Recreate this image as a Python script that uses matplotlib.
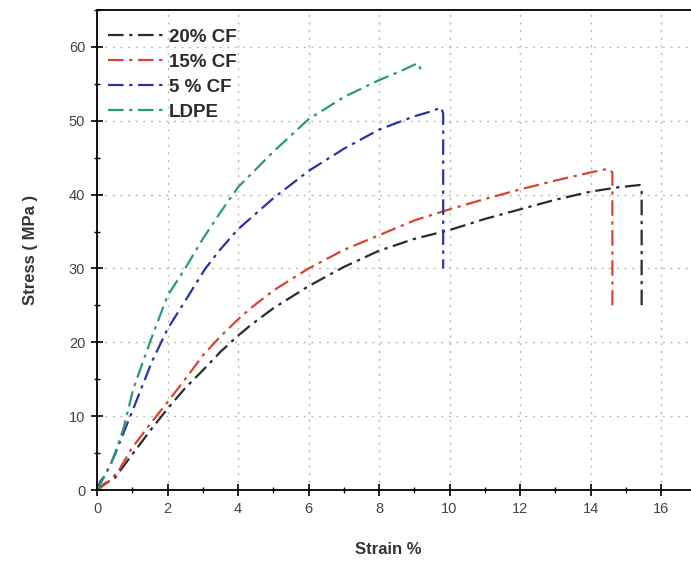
import matplotlib
matplotlib.use("Agg")
import matplotlib.pyplot as plt
from matplotlib.ticker import MultipleLocator

plt.rcParams['font.family'] = ['Liberation Sans', 'DejaVu Sans']

# ---- data ----
labels = ["20% CF", "15% CF", "5 % CF", "LDPE"]
colors = ["#2b2b2b", "#d9442e", "#2a33a6", "#2a9a7c"]

strain_20 = [0.0, 0.23, 0.5, 0.98, 1.55, 2.0, 2.5, 3.0, 3.5, 4.0, 4.38, 5.0, 6.0, 7.0, 8.0, 9.0, 10.0, 11.0, 12.0, 13.0, 14.0, 14.8, 15.4, 15.45, 15.45]
stress_20 = [0.0, 0.9, 1.6, 4.7, 8.3, 11.0, 13.8, 16.2, 18.7, 20.9, 22.4, 24.6, 27.6, 30.2, 32.4, 34.0, 35.2, 36.7, 38.0, 39.3, 40.4, 41.0, 41.3, 40.5, 24.5]

strain_15 = [0.0, 0.15, 0.32, 0.6, 0.98, 1.55, 2.0, 2.5, 3.0, 3.5, 4.0, 4.38, 5.0, 6.0, 7.0, 8.0, 9.0, 10.0, 11.0, 12.0, 13.0, 14.0, 14.5, 14.62, 14.62]
stress_15 = [0.0, 0.5, 1.1, 2.5, 5.6, 9.2, 11.9, 15.0, 18.2, 20.8, 23.1, 24.7, 27.0, 30.0, 32.5, 34.5, 36.5, 38.0, 39.4, 40.7, 41.9, 43.0, 43.5, 43.0, 25.0]

strain_5 = [0.0, 0.1, 0.23, 0.5, 0.8, 1.03, 1.55, 2.0, 2.5, 3.06, 3.5, 4.0, 4.38, 5.0, 6.0, 7.0, 8.0, 9.0, 9.5, 9.76, 9.82, 9.82]
stress_5 = [0.0, 1.2, 2.0, 4.7, 8.3, 11.0, 17.3, 21.8, 25.6, 29.9, 32.6, 35.3, 36.9, 39.5, 43.2, 46.2, 48.8, 50.6, 51.3, 51.8, 51.0, 30.0]

strain_ldpe = [0.0, 0.13, 0.42, 0.75, 1.03, 1.5, 2.0, 2.5, 3.0, 3.5, 4.0, 5.0, 6.0, 7.0, 8.0, 8.6, 9.1, 9.2]
stress_ldpe = [0.0, 1.1, 3.8, 8.3, 13.7, 20.0, 26.3, 30.0, 34.0, 37.6, 41.0, 45.8, 50.2, 53.2, 55.5, 56.7, 57.8, 56.8]

series = [(strain_20, stress_20), (strain_15, stress_15), (strain_5, stress_5), (strain_ldpe, stress_ldpe)]

x_ticks = [0, 2, 4, 6, 8, 10, 12, 14, 16]
y_ticks = [0, 10, 20, 30, 40, 50, 60]

fig = plt.figure(figsize=(6.91, 5.67), dpi=100)
ax = fig.add_axes([0.1404, 0.1358, 0.8596, 0.8466])

dash = (0, (7, 2.5, 1.5, 2.5))
for (xs, ys), lab, c in zip(series, labels, colors):
    ax.plot(xs, ys, color=c, lw=1.6, linestyle=dash, label=lab)

ax.set_xlim(0, 16.85)
ax.set_ylim(0, 65)
ax.set_xticks(x_ticks)
ax.set_yticks(y_ticks)
ax.xaxis.set_minor_locator(MultipleLocator(1))
ax.yaxis.set_minor_locator(MultipleLocator(5))
ax.tick_params(which='major', direction='inout', length=9, width=1.2, labelsize=10.5, labelcolor='#444444', pad=4)
ax.tick_params(which='minor', direction='inout', length=5, width=1.0)
ax.tick_params(top=False, right=False, which='both')

for s in ['left', 'bottom', 'top']:
    ax.spines[s].set_linewidth(1.3)
ax.spines['right'].set_visible(False)

ax.grid(True, which='major', color='#b5bca8', linestyle=(0, (1.5, 4)), linewidth=1.0)
ax.set_axisbelow(True)

ax.set_xlabel("Strain %", fontsize=12, fontweight='bold', color='#333333')
ax.set_ylabel("Stress ( MPa )", fontsize=12, fontweight='bold', color='#333333')
ax.xaxis.set_label_coords(0.49, -0.108)
ax.yaxis.set_label_coords(-0.1, 0.5)

leg = ax.legend(loc='upper left', frameon=False, prop={'weight': 'bold', 'size': 13.5},
                handlelength=2.9, handletextpad=0.35, labelspacing=0.42, borderaxespad=0.2,
                bbox_to_anchor=(0.0, 0.985))
for t in leg.get_texts():
    t.set_color('#2b2b2b')

fig.savefig("out.png", dpi=100)
